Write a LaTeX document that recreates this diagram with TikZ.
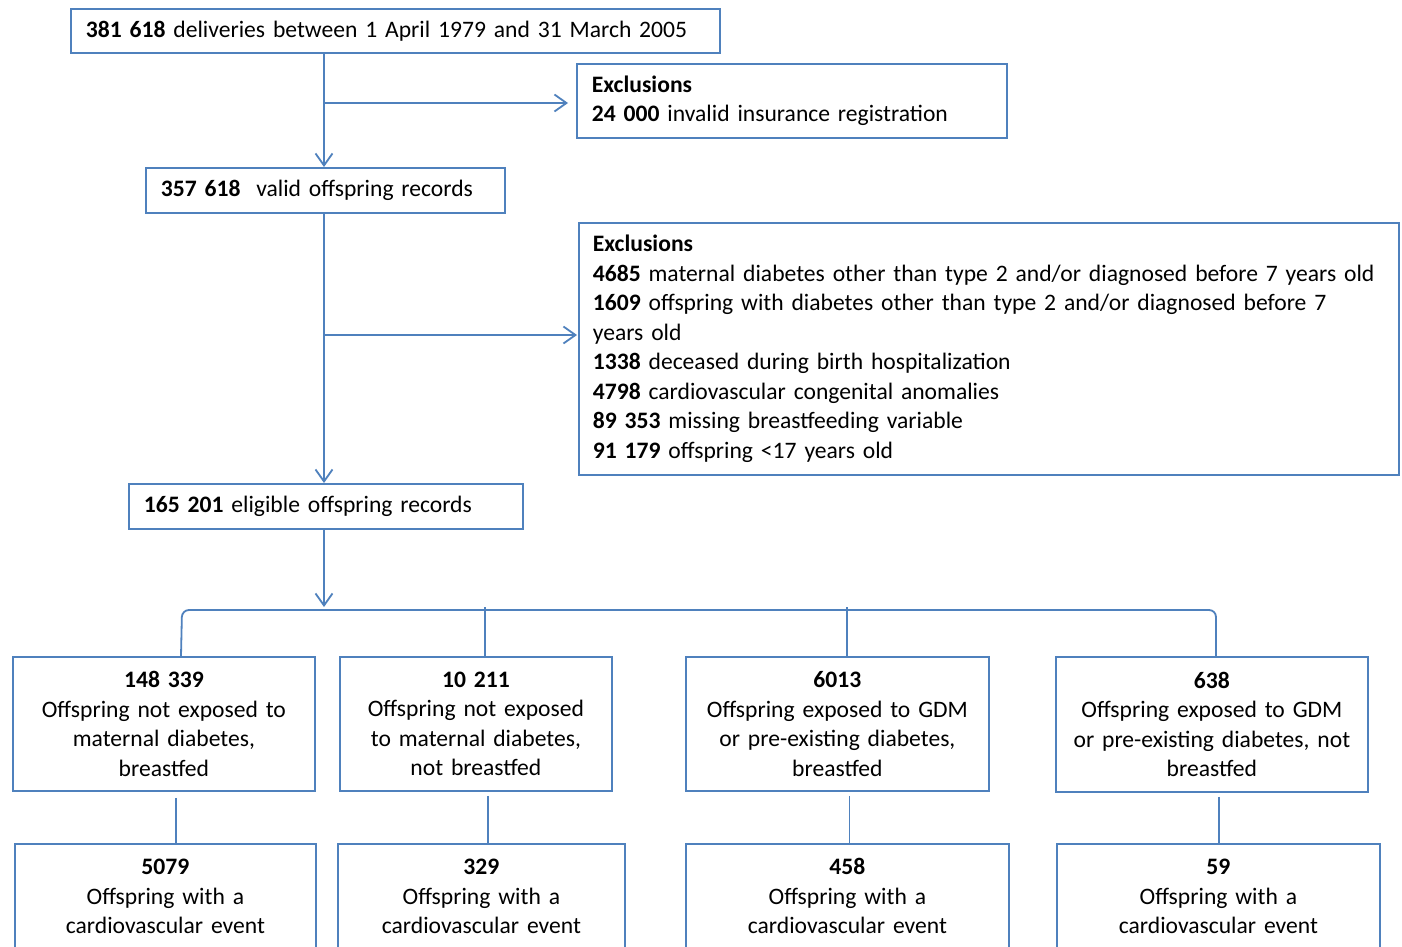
\documentclass[tikz,border=0pt]{standalone}
\usepackage{fontspec}
\setmainfont{Carlito}
\usetikzlibrary{arrows.meta,calc}
\definecolor{lblue}{HTML}{4F81BD}
\tikzset{
  lbox/.style={draw=lblue, line width=1.8pt, anchor=north west, inner xsep=15pt, inner ysep=0pt,
    align=left, font=\fontsize{23.6}{29.5}\selectfont, text=black},
  cbox/.style={lbox, inner xsep=8pt, align=center},
  conn/.style={draw=lblue, line width=1.8pt},
  arr/.style={conn, -{Straight Barb[length=12pt,width=17pt,line width=1.8pt]}}
}
\begin{document}
\begin{tikzpicture}[x=1pt,y=-1pt]
\useasboundingbox[fill=white] (0,0) rectangle (1402,946);
% top chain
\node[lbox, minimum width=649pt, minimum height=44pt, text width=619pt] (top) at (70,8)
  {\textbf{381 618} deliveries between 1 April 1979 and 31 March 2005};
\node[lbox, minimum width=430pt, minimum height=74pt, text width=400pt] (ex1) at (576,63)
  {\textbf{Exclusions}\\\textbf{24 000} invalid insurance registration};
\node[lbox, minimum width=359pt, minimum height=45pt, text width=329pt] (valid) at (145,167)
  {\textbf{357 618}\ \ valid offspring records};
\node[lbox, minimum width=820pt, minimum height=252pt, text width=792pt, inner xsep=14pt] (ex2) at (578,222)
  {\textbf{Exclusions}\\
   \textbf{4685} maternal diabetes other than type 2 and/or diagnosed before 7 years old\\
   \textbf{1609} offspring with diabetes other than type 2 and/or diagnosed before 7\\
   years old\\
   \textbf{1338} deceased during birth hospitalization\\
   \textbf{4798} cardiovascular congenital anomalies\\
   \textbf{89 353} missing breastfeeding variable\\
   \textbf{91 179} offspring <17 years old};
\node[lbox, minimum width=394pt, minimum height=45pt, text width=364pt] (elig) at (128,483)
  {\textbf{165 201} eligible offspring records};
% row of groups
\node[cbox, minimum width=302pt, minimum height=134pt, text width=286pt] (ra) at (12,656)
  {\textbf{148 339}\\Offspring not exposed to\\maternal diabetes,\\breastfed};
\node[cbox, minimum width=272pt, minimum height=134pt, text width=256pt] (rb) at (339,656)
  {\textbf{10 211}\\Offspring not exposed\\to maternal diabetes,\\not breastfed};
\node[cbox, minimum width=303pt, minimum height=134pt, text width=287pt] (rc) at (685,656)
  {\textbf{6013}\\Offspring exposed to GDM\\or pre-existing diabetes,\\breastfed};
\node[cbox, minimum width=312pt, minimum height=135pt, text width=296pt] (rd) at (1055,656)
  {\textbf{638}\\Offspring exposed to GDM\\or pre-existing diabetes, not\\breastfed};
% outcomes
\node[cbox, minimum width=301pt, minimum height=105pt, text width=285pt] (ca) at (14,843)
  {\textbf{5079}\\Offspring with a\\cardiovascular event};
\node[cbox, minimum width=287pt, minimum height=105pt, text width=271pt] (cb) at (337,843)
  {\textbf{329}\\Offspring with a\\cardiovascular event};
\node[cbox, minimum width=323pt, minimum height=105pt, text width=307pt] (cc) at (685,843)
  {\textbf{458}\\Offspring with a\\cardiovascular event};
\node[cbox, minimum width=323pt, minimum height=105pt, text width=307pt] (cd) at (1056,843)
  {\textbf{59}\\Offspring with a\\cardiovascular event};
% connector coordinates
\coordinate (spine) at (324,0);
\coordinate (j1) at (324,103);
\coordinate (j2) at (324,335);
\coordinate (hub) at (324,607);
\coordinate (legA) at (182,610);
\coordinate (legB) at (485,607);
\coordinate (legC) at (847,607);
\coordinate (legD) at (1216,610);
% main spine
\draw[arr] (top.south -| spine) -- (valid.north -| spine);
\draw[arr] (j1) -- ([xshift=-8pt]ex1.west |- j1);
\draw[arr] (valid.south -| spine) -- (elig.north -| spine);
\draw[arr] (j2) -- ([xshift=-1pt]ex2.west |- j2);
\draw[arr] (elig.south -| spine) -- (hub);
% bracket
\draw[conn, rounded corners=7pt] ([xshift=-1pt]ra.north -| legA) -- (legA) -- (legD) -- (rd.north -| legD);
\draw[conn] (legB) -- (rb.north -| legB);
\draw[conn] (legC) -- (rc.north -| legC);
% group to outcome
\draw[conn] ([xshift=12pt,yshift=-6pt]ra.south) -- ([xshift=12pt]ra.south |- ca.north);
\draw[conn] ([xshift=12pt,yshift=-4pt]rb.south) -- ([xshift=12pt]rb.south |- cb.north);
\draw[conn] ([xshift=12pt,yshift=-4pt]rc.south) -- ([xshift=12pt]rc.south |- cc.north);
\draw[conn] ([xshift=7pt,yshift=-4pt]rd.south) -- ([xshift=7pt]rd.south |- cd.north);
\end{tikzpicture}
\end{document}
